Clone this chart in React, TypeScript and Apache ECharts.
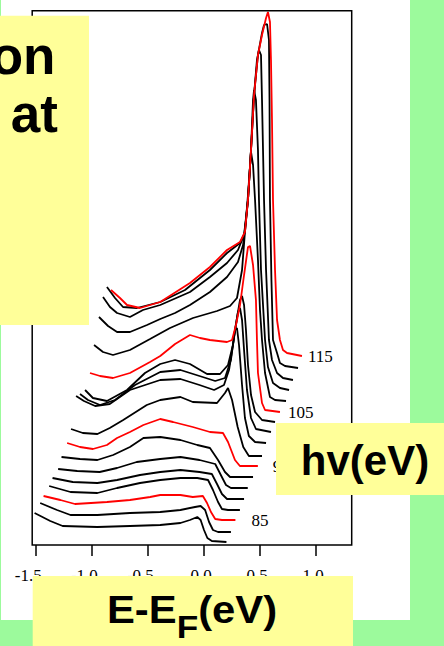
import React, { useEffect, useRef } from "react";
import * as echarts from "echarts";

// Photon energies (eV) of the stacked EDCs, bottom to top
const photonEnergies = [81, 83, 85, 87, 89, 91, 93, 95, 97, 99, 101, 103, 105, 107, 109, 111, 113, 115];
// Curves drawn in red and labelled at their right end
const labelledEnergies = [85, 95, 105, 115];
// Tick values of the E-EF axis
const tickValues = [-1.5, -1.0, -0.5, 0.0, 0.5, 1.0];
// Texts on the slide
const boxLines = ["on", "at"];
const hvTitle = "hv(eV)";
const eTitleMain = "E-E";
const eTitleSub = "F";
const eTitleUnit = "(eV)";

// EDCs: [E - EF as plotted (eV, waterfall-shifted), intensity + offset (arb. units)]
const edc81 = [[-1.51,32],[-1.37,24],[-1.26,19],[-0.95,18],[-0.66,19],[-0.39,20],[-0.21,22],[-0.125,25],[-0.06,28],[-0.03,25],[0.0,15],[0.03,7],[0.07,4],[0.2,3]];
const edc83 = [[-1.46,42],[-1.31,35],[-1.19,30],[-0.95,30],[-0.66,32],[-0.39,33],[-0.21,35],[-0.08,38],[-0.03,39],[0.01,35],[0.045,23],[0.08,15],[0.125,13],[0.24,13]];
const edc85 = [[-1.43,49],[-1.28,45],[-1.15,41],[-0.865,43],[-0.66,45],[-0.48,48],[-0.39,50],[-0.21,50],[-0.1,48],[-0.01,49],[0.027,42],[0.062,33],[0.1,26],[0.16,25],[0.28,25]];
const edc87 = [[-1.38,59],[-1.19,53],[-0.95,52],[-0.775,57],[-0.57,62],[-0.39,65],[-0.21,67],[-0.06,67],[0.036,65],[0.08,55],[0.125,43],[0.16,36],[0.214,35],[0.32,35]];
const edc89 = [[-1.35,67],[-1.17,63],[-0.95,62],[-0.775,65],[-0.57,70],[-0.39,73],[-0.21,75],[-0.04,73],[0.07,71],[0.116,61],[0.16,51],[0.205,46],[0.357,46]];
const edc91 = [[-1.3,76],[-1.13,74],[-0.93,73],[-0.775,77],[-0.6,83],[-0.39,86],[-0.21,88],[-0.04,85],[0.1,81],[0.15,70],[0.196,60],[0.24,57],[0.39,57]];
const edc93 = [[-1.27,88],[-1.105,86],[-0.95,85],[-0.81,90],[-0.66,98],[-0.54,107],[-0.39,108],[-0.21,105],[-0.06,100],[0.053,97],[0.125,85],[0.187,73],[0.232,68],[0.437,68]];
const edc95 = [[-1.22,102],[-1.105,98],[-0.99,96],[-0.865,100],[-0.775,107],[-0.66,113],[-0.54,120],[-0.39,126],[-0.276,123],[-0.1,118],[0.053,113],[0.169,112],[0.214,103],[0.276,85],[0.32,79],[0.48,79]];
const edc97 = [[-1.185,116],[-1.08,112],[-0.95,111],[-0.84,117],[-0.72,125],[-0.51,140],[-0.39,145],[-0.21,148],[-0.1,143],[0.116,142],[0.187,152],[0.214,157],[0.25,145],[0.3,118],[0.35,98],[0.4,89],[0.517,89]];
const edc99 = [[-1.14,149],[-1.07,144],[-0.97,139],[-0.84,141],[-0.66,155],[-0.39,165],[-0.21,166],[-0.04,160],[0.09,155],[0.178,160],[0.223,175],[0.258,200],[0.276,215],[0.294,217],[0.312,200],[0.339,160],[0.365,127],[0.4,109],[0.455,103],[0.553,102]];
const edc101 = [[-1.105,151],[-1.034,145],[-0.927,140],[-0.793,145],[-0.615,160],[-0.39,173],[-0.21,175],[-0.04,169],[0.1,164],[0.187,167],[0.24,185],[0.276,215],[0.303,233],[0.321,237],[0.339,225],[0.357,195],[0.383,155],[0.419,127],[0.463,116],[0.597,113]];
const edc103 = [[-1.06,155],[-0.99,147],[-0.865,144],[-0.686,155],[-0.526,172],[-0.39,181],[-0.258,185],[-0.125,181],[0.027,171],[0.143,171],[0.214,180],[0.258,200],[0.294,227],[0.321,245],[0.339,249],[0.357,240],[0.374,215],[0.392,180],[0.419,150],[0.455,133],[0.517,125],[0.633,123]];
const edc105 = [[-1.016,172],[-0.927,169],[-0.811,167],[-0.66,172],[-0.481,183],[-0.39,189],[-0.258,201],[-0.125,210],[-0.036,207],[0.053,205],[0.205,203],[0.25,205],[0.285,220],[0.321,240],[0.357,270],[0.392,298],[0.41,299],[0.437,280],[0.463,245],[0.472,205],[0.481,172],[0.517,142],[0.544,135],[0.677,133]];
const edc107 = [[-0.98,200],[-0.9,193],[-0.811,190],[-0.66,195],[-0.481,206],[-0.303,217],[-0.098,227],[0.116,234],[0.232,239],[0.294,247],[0.339,275],[0.365,313],[0.392,350],[0.419,393],[0.437,380],[0.455,345],[0.481,285],[0.499,235],[0.517,205],[0.544,172],[0.588,148],[0.633,145],[0.731,144]];
const edc109 = [[-0.936,228],[-0.855,219],[-0.775,213],[-0.66,213],[-0.508,220],[-0.39,226],[-0.258,232],[-0.125,240],[0.053,253],[0.205,268],[0.303,283],[0.348,300],[0.374,325],[0.392,345],[0.419,395],[0.437,445],[0.446,455],[0.463,445],[0.481,395],[0.49,345],[0.508,275],[0.544,205],[0.57,178],[0.615,162],[0.677,157],[0.758,155]];
const edc111 = [[-0.9,248],[-0.838,238],[-0.775,232],[-0.66,228],[-0.544,235],[-0.39,240],[-0.125,253],[0.053,268],[0.205,282],[0.303,295],[0.357,310],[0.392,345],[0.419,395],[0.446,450],[0.472,485],[0.49,495],[0.508,490],[0.517,445],[0.535,345],[0.553,275],[0.579,205],[0.606,185],[0.651,172],[0.704,167],[0.793,165]];
const edc113 = [[-0.865,258],[-0.793,247],[-0.722,238],[-0.597,237],[-0.39,243],[-0.169,255],[0.053,275],[0.205,292],[0.321,302],[0.365,313],[0.392,345],[0.419,395],[0.446,450],[0.481,490],[0.517,512],[0.535,520],[0.562,521],[0.579,505],[0.584,445],[0.588,345],[0.601,265],[0.615,205],[0.651,192],[0.677,182],[0.722,179],[0.838,177]];
const edc115 = [[-0.829,255],[-0.749,247],[-0.686,240],[-0.57,237],[-0.39,243],[-0.125,262],[0.053,278],[0.205,295],[0.321,303],[0.365,313],[0.392,345],[0.419,395],[0.446,450],[0.481,490],[0.517,510],[0.553,527],[0.57,533],[0.588,523],[0.597,485],[0.606,425],[0.615,345],[0.633,275],[0.651,225],[0.677,205],[0.704,195],[0.74,192],[0.873,189]];

const edcList = [edc81, edc83, edc85, edc87, edc89, edc91, edc93, edc95, edc97, edc99, edc101, edc103, edc105, edc107, edc109, edc111, edc113, edc115];

const GREEN = "#9cfa9c";
const YELLOW = "#ffff99";
const SANS = '"Liberation Sans", Arial, Helvetica, sans-serif';
const SERIF = '"Liberation Serif", "Times New Roman", serif';

export default function App() {
  const ref = useRef<HTMLDivElement>(null);

  useEffect(() => {
    const chart = echarts.init(ref.current as HTMLDivElement, null, { renderer: "svg" });
    const labelGap: Record<number, number> = { 85: 16, 95: 15, 105: 8, 115: 6 };

    const series = photonEnergies.map((hv, i) => {
      const red = labelledEnergies.includes(hv);
      const color = red ? "#ff0000" : "#000000";
      return {
        type: "line",
        name: hv + " eV",
        data: edcList[i],
        showSymbol: false,
        symbol: "none",
        smooth: false,
        lineStyle: { color, width: 1.8 },
        itemStyle: { color },
        emphasis: { disabled: true },
        silent: true,
        z: 2,
        endLabel: red
          ? {
              show: true,
              formatter: String(hv),
              color: "#000",
              fontFamily: SERIF,
              fontSize: 17,
              distance: labelGap[hv],
            }
          : { show: false },
      };
    });

    const richBase = { fontFamily: SERIF, fontSize: 17, color: "#000" };

    const option: any = {
      animation: false,
      backgroundColor: "#ffffff",
      grid: {
        left: 35.7,
        right: 127.8,
        top: 10,
        bottom: 101,
        containLabel: false,
        outerBoundsMode: "none",
      },
      xAxis: {
        type: "value",
        min: -1.5,
        max: 1.0,
        interval: 0.5,
        axisLine: { show: false },
        splitLine: { show: false },
        axisTick: {
          show: true,
          inside: false,
          length: 11,
          customValues: tickValues,
          lineStyle: { color: "#000", width: 1.5 },
        },
        axisLabel: {
          show: true,
          margin: 22,
          customValues: tickValues,
          color: "#000",
          fontFamily: SERIF,
          fontSize: 17,
          formatter: (v: number) =>
            v < 0 ? "{n|" + v.toFixed(1) + "}" : "{p|" + v.toFixed(1) + "}",
          rich: {
            n: { ...richBase, padding: [0, 15, 0, 0] },
            p: { ...richBase, padding: [0, 6, 0, 0] },
          },
        },
      },
      yAxis: { type: "value", min: 0, max: 535, show: false },
      series,
      graphic: [
        { type: "rect", z: 0, silent: true, shape: { x: 410, y: 0, width: 34, height: 646 }, style: { fill: GREEN } },
        { type: "rect", z: 0, silent: true, shape: { x: 0, y: 620, width: 444, height: 26 }, style: { fill: GREEN } },
        { type: "rect", z: 0, silent: true, shape: { x: 0, y: 0, width: 1, height: 646 }, style: { fill: GREEN } },
        {
          type: "rect",
          z: 5,
          silent: true,
          shape: { x: 32.2, y: 10.8, width: 319.5, height: 534.2 },
          style: { fill: "none", stroke: "#000", lineWidth: 1.5 },
        },
        { type: "rect", z: 100, silent: true, shape: { x: 0, y: 15.7, width: 89, height: 309.3 }, style: { fill: YELLOW } },
        { type: "rect", z: 100, silent: true, shape: { x: 276, y: 423, width: 168, height: 72 }, style: { fill: YELLOW } },
        { type: "rect", z: 100, silent: true, shape: { x: 32.7, y: 576, width: 320.3, height: 70 }, style: { fill: YELLOW } },
        {
          type: "text",
          z: 101,
          silent: true,
          style: {
            text: boxLines[0],
            x: 55.5,
            y: 55.6,
            font: "bold 53px " + SANS,
            fill: "#000",
            align: "right",
            textAlign: "right",
            verticalAlign: "middle",
            textVerticalAlign: "middle",
          },
        },
        {
          type: "text",
          z: 101,
          silent: true,
          style: {
            text: boxLines[1],
            x: 58,
            y: 113.6,
            font: "bold 53px " + SANS,
            fill: "#000",
            align: "right",
            textAlign: "right",
            verticalAlign: "middle",
            textVerticalAlign: "middle",
          },
        },
        {
          type: "text",
          z: 101,
          silent: true,
          style: {
            text: hvTitle,
            x: 365,
            y: 460.5,
            font: "bold 42px " + SANS,
            fill: "#000",
            align: "center",
            textAlign: "center",
            verticalAlign: "middle",
            textVerticalAlign: "middle",
          },
        },
        {
          type: "group",
          z: 101,
          x: 107,
          y: 0,
          scaleX: 1.1,
          silent: true,
          children: [
            {
              type: "text",
              z: 101,
              style: {
                text: eTitleMain,
                x: 0,
                y: 609.8,
                font: "bold 38px " + SANS,
                fill: "#000",
                align: "left",
                textAlign: "left",
                verticalAlign: "middle",
                textVerticalAlign: "middle",
              },
            },
            {
              type: "text",
              z: 101,
              style: {
                text: eTitleSub,
                x: 63.35,
                y: 626.9,
                font: "bold 32px " + SANS,
                fill: "#000",
                align: "left",
                textAlign: "left",
                verticalAlign: "middle",
                textVerticalAlign: "middle",
              },
            },
            {
              type: "text",
              z: 101,
              style: {
                text: eTitleUnit,
                x: 82.9,
                y: 609.8,
                font: "bold 38px " + SANS,
                fill: "#000",
                align: "left",
                textAlign: "left",
                verticalAlign: "middle",
                textVerticalAlign: "middle",
              },
            },
          ],
        },
      ],
    };

    chart.setOption(option);
    return () => {
      chart.dispose();
    };
  }, []);

  return (
    <div
      ref={ref}
      style={{ position: "fixed", left: 0, top: 0, width: 444, height: 646 }}
    />
  );
}
